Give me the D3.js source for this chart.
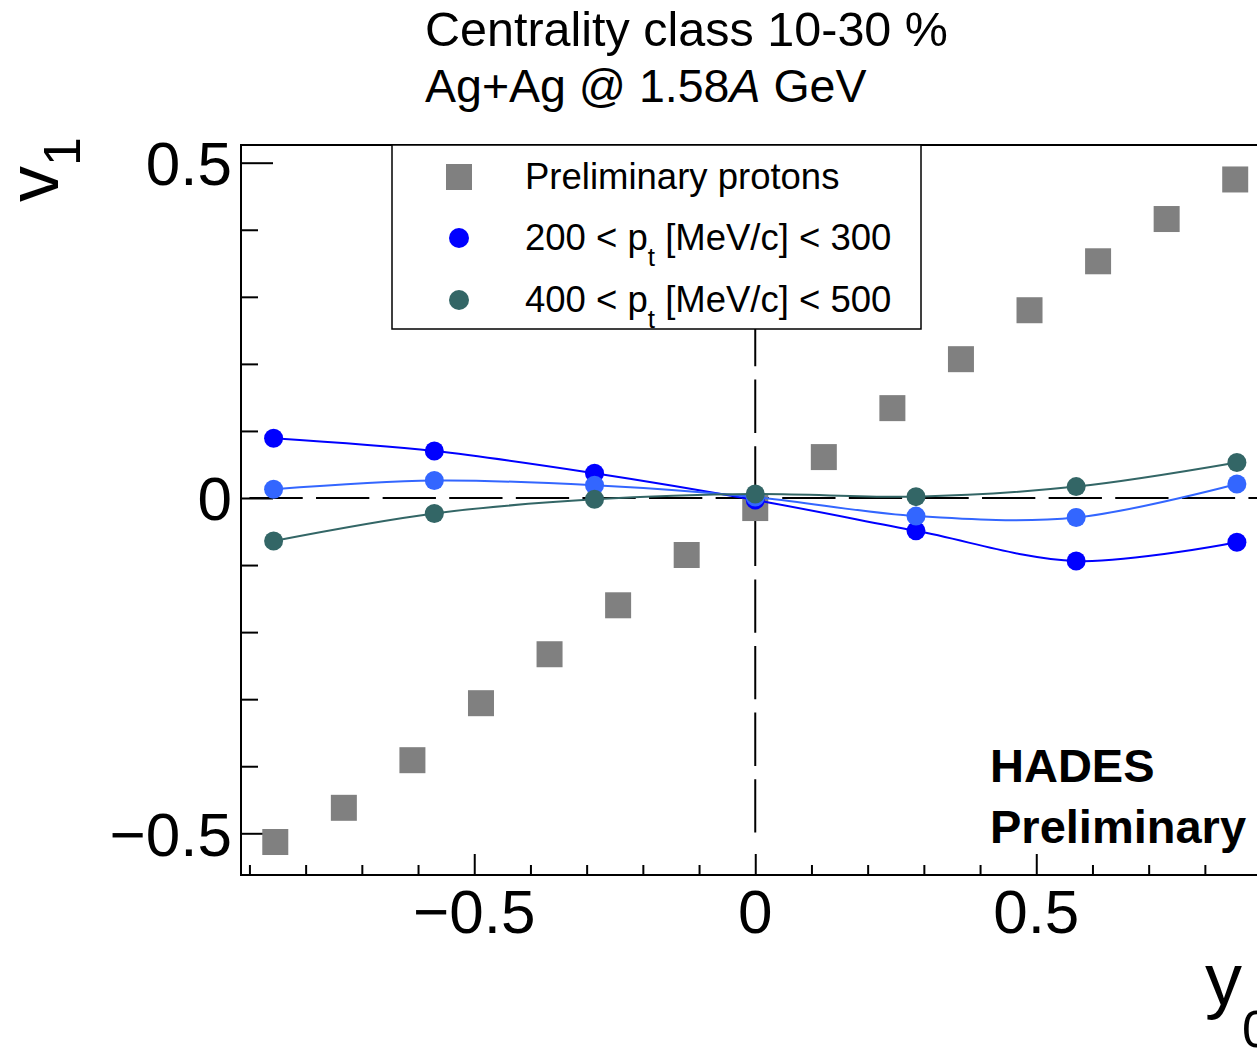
<!DOCTYPE html>
<html>
<head>
<meta charset="utf-8">
<script src="https://cdn.jsdelivr.net/npm/d3@7"></script>
<style>
  html, body { margin: 0; padding: 0; background: #fff; }
  svg { display: block; font-family: "Liberation Sans", Arial, Helvetica, sans-serif; }
</style>
</head>
<body>
<svg id="chart" width="1257" height="1048"></svg>
<script>
// ---------------- data ----------------
const titleLines = ["Centrality class 10-30 %", "Ag+Ag @ 1.58", "A", " GeV"];

const protonX = [-0.854, -0.732, -0.610, -0.488, -0.366, -0.244, -0.122, 0.0, 0.122, 0.244, 0.366, 0.488, 0.610, 0.732, 0.854];
const protonV1 = [-0.513, -0.462, -0.391, -0.306, -0.233, -0.160, -0.085, -0.015, 0.061, 0.134, 0.207, 0.280, 0.353, 0.416, 0.475];

const binX = [-0.857, -0.571, -0.286, 0.0, 0.286, 0.571, 0.857];
const v1Pt200300 = [0.089, 0.070, 0.037, -0.003, -0.049, -0.094, -0.066];
const v1Light = [0.013, 0.026, 0.019, 0.0015, -0.027, -0.029, 0.021];
const v1Pt400500 = [-0.064, -0.023, -0.002, 0.006, 0.002, 0.017, 0.053];

const xMajorTicks = [-0.5, 0, 0.5];
const xMajorLabels = ["\u22120.5", "0", "0.5"];
const xMinorTicks = [-0.9, -0.8, -0.7, -0.6, -0.4, -0.3, -0.2, -0.1, 0.1, 0.2, 0.3, 0.4, 0.6, 0.7, 0.8, 0.9];
const yMajorTicks = [-0.5, 0, 0.5];
const yMajorLabels = ["\u22120.5", "0", "0.5"];
const yMinorTicks = [-0.4, -0.3, -0.2, -0.1, 0.1, 0.2, 0.3, 0.4];

const legendLabels = ["Preliminary protons", "200 < p", "400 < p"];

// ---------------- layout ----------------
const svg = d3.select("#chart");
const x = d3.scaleLinear().domain([-0.915, 0.915]).range([241, 1269.5]);
const y = d3.scaleLinear().domain([-0.5622, 0.5264]).range([875, 145]);

const colGrey = "#808080", colBlue = "#0000ff", colLight = "#3366ff", colTeal = "#336666";

// dashed reference lines
svg.append("line")
  .attr("x1", x(-0.9)).attr("x2", x(0.915))
  .attr("y1", y(0)).attr("y2", y(0))
  .attr("stroke", "#000").attr("stroke-width", 2)
  .attr("stroke-dasharray", "53.3,13.3");
svg.append("line")
  .attr("x1", x(0)).attr("x2", x(0))
  .attr("y1", y(0.5)).attr("y2", y(-0.5))
  .attr("stroke", "#000").attr("stroke-width", 2)
  .attr("stroke-dasharray", "53.3,13.3")
  .attr("stroke-dashoffset", 49.5);

// axes
const gx = svg.append("g").attr("transform", `translate(0,${y.range()[0]})`);
gx.call(d3.axisBottom(x).tickValues(xMinorTicks).tickSize(-10).tickFormat(""));
gx.append("g").call(d3.axisBottom(x).tickValues(xMajorTicks).tickSize(-21).tickFormat(""));
gx.selectAll(".domain").remove();
gx.selectAll("line").attr("stroke", "#000").attr("stroke-width", 2);

const gy = svg.append("g").attr("transform", `translate(${x.range()[0]},0)`);
gy.call(d3.axisLeft(y).tickValues(yMinorTicks).tickSize(-17).tickFormat(""));
gy.append("g").call(d3.axisLeft(y).tickValues(yMajorTicks).tickSize(-32).tickFormat(""));
gy.selectAll(".domain").remove();
gy.selectAll("line").attr("stroke", "#000").attr("stroke-width", 2);

// frame lines
svg.append("line").attr("x1", x(-0.915)).attr("x2", x(-0.915)).attr("y1", 145).attr("y2", 875)
  .attr("stroke", "#000").attr("stroke-width", 2);
svg.append("line").attr("x1", x(-0.915) - 1).attr("x2", 1270).attr("y1", 875).attr("y2", 875)
  .attr("stroke", "#000").attr("stroke-width", 2);
svg.append("line").attr("x1", x(-0.915) - 1).attr("x2", 1270).attr("y1", 145).attr("y2", 145)
  .attr("stroke", "#000").attr("stroke-width", 2);

// tick labels
svg.selectAll("text.xlab").data(xMajorTicks).enter().append("text")
  .attr("class", "xlab")
  .attr("x", d => x(d)).attr("y", 933)
  .attr("text-anchor", "middle").attr("font-size", 62)
  .text((d, i) => xMajorLabels[i]);
svg.selectAll("text.ylab").data(yMajorTicks).enter().append("text")
  .attr("class", "ylab")
  .attr("x", 232).attr("y", d => y(d) + 22.5)
  .attr("text-anchor", "end").attr("font-size", 62)
  .text((d, i) => yMajorLabels[i]);

// axis titles
const vt = svg.append("text").attr("transform", "translate(58,202) rotate(-90)").attr("font-size", 72);
vt.append("tspan").text("v");
vt.append("tspan").attr("font-size", 52).attr("dy", 22).text("1");

const yt = svg.append("text").attr("x", 1205).attr("y", 1005).attr("font-size", 74);
yt.append("tspan").text("y");
yt.append("tspan").attr("font-size", 52).attr("dy", 42).text("0");

// title
svg.append("text").attr("x", 425).attr("y", 46).attr("font-size", 48.5).text(titleLines[0]);
const t2 = svg.append("text").attr("x", 425).attr("y", 102).attr("font-size", 46.5);
t2.append("tspan").text(titleLines[1]);
t2.append("tspan").attr("font-style", "italic").text(titleLines[2]);
t2.append("tspan").text(titleLines[3]);

// HADES
svg.append("text").attr("x", 990).attr("y", 782).attr("font-size", 47).attr("font-weight", "bold").text("HADES");
svg.append("text").attr("x", 990).attr("y", 843).attr("font-size", 47).attr("font-weight", "bold").text("Preliminary");

// legend
svg.append("rect").attr("x", 392).attr("y", 145).attr("width", 529).attr("height", 184)
  .attr("fill", "#fff").attr("stroke", "#000").attr("stroke-width", 1.5);
svg.append("rect").attr("x", 459 - 13).attr("y", 177 - 13).attr("width", 26).attr("height", 26).attr("fill", colGrey);
svg.append("circle").attr("cx", 459).attr("cy", 238).attr("r", 10).attr("fill", colBlue);
svg.append("circle").attr("cx", 459).attr("cy", 300).attr("r", 10).attr("fill", colTeal);
svg.append("text").attr("x", 525).attr("y", 189).attr("font-size", 36.5).text(legendLabels[0]);
[[legendLabels[1], 250, "300"], [legendLabels[2], 312, "500"]].forEach(([lab, by, hi]) => {
  const t = svg.append("text").attr("x", 525).attr("y", by).attr("font-size", 36.5);
  t.append("tspan").text(lab);
  t.append("tspan").attr("font-size", 26).attr("dy", 16).text("t");
  t.append("tspan").attr("dy", -16).text(" [MeV/c] < " + hi);
});

// proton squares
svg.selectAll("rect.p").data(protonX).enter().append("rect")
  .attr("class", "p")
  .attr("x", d => x(d) - 13)
  .attr("y", (d, i) => y(protonV1[i]) - 13)
  .attr("width", 26).attr("height", 26)
  .attr("fill", colGrey);

// curves with circles
const line = d3.line().curve(d3.curveCatmullRom.alpha(0.5)).x(d => x(d[0])).y(d => y(d[1]));
[[v1Pt200300, colBlue, 2], [v1Light, colLight, 2], [v1Pt400500, colTeal, 2]].forEach(([vals, col, w]) => {
  const pts = binX.map((bx, i) => [bx, vals[i]]);
  svg.append("path").datum(pts).attr("d", line)
    .attr("fill", "none").attr("stroke", col).attr("stroke-width", w);
  svg.append("g").selectAll("circle").data(pts).enter().append("circle")
    .attr("cx", d => x(d[0])).attr("cy", d => y(d[1])).attr("r", 9.5).attr("fill", col);
});
</script>
</body>
</html>
